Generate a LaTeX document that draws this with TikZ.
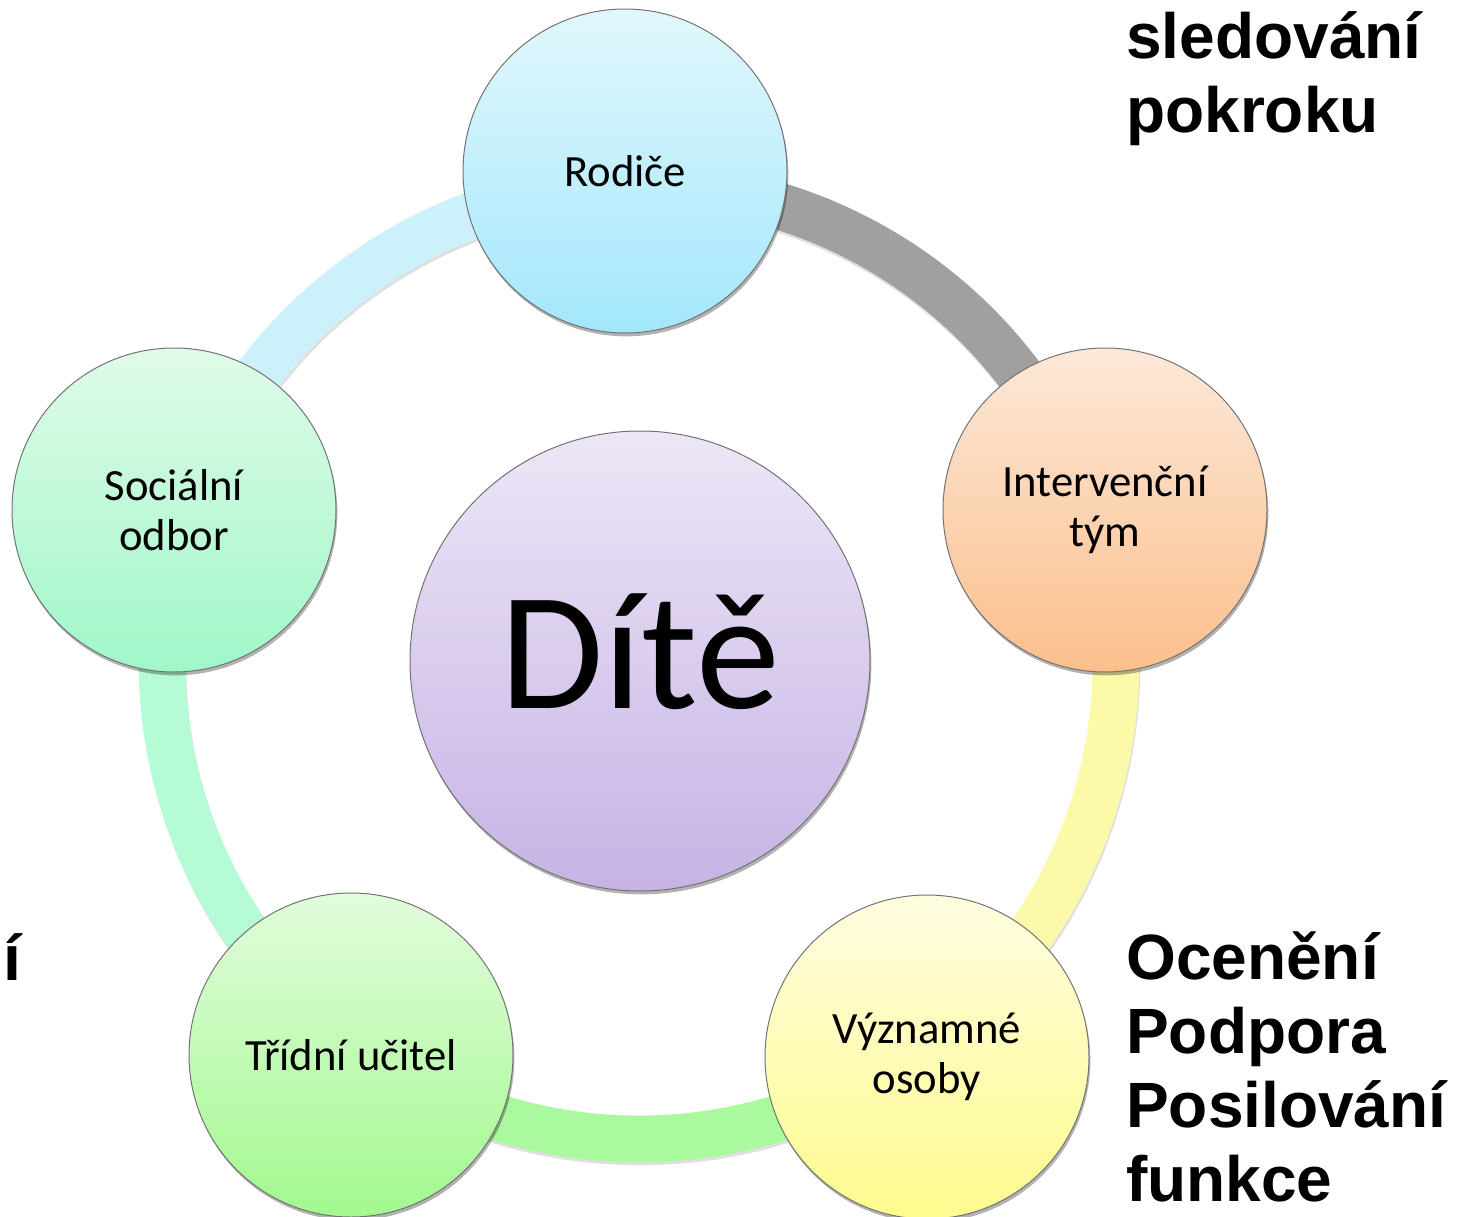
\documentclass[tikz,border=0pt]{standalone}
\usepackage{fontspec}
\setmainfont{Carlito}
\newfontfamily\sidefont{Liberation Sans}
\usetikzlibrary{shadows}

\definecolor{arcblue}{HTML}{CDF1FB}
\definecolor{arcgray}{HTML}{A0A0A0}
\definecolor{arcyellow}{HTML}{FCFAA8}
\definecolor{arcgreen}{HTML}{AAF99E}
\definecolor{arcmint}{HTML}{B4FBD6}

\tikzset{
  bubble/.style={circle, draw=black!55, line width=0.75pt, inner sep=0pt, minimum size=243pt, align=center,
    font=\fontsize{33.5}{37.5}\selectfont,
    drop shadow={shadow xshift=1pt, shadow yshift=-2.5pt, opacity=0.3, fill=black}},
  ringarc/.style={line width=35pt},
  arcshadow/.style={line width=35pt, draw=black, opacity=0.12},
  sidetext/.style={anchor=base west, inner sep=0pt, align=left, font=\sidefont\bfseries\fontsize{48}{55.5}\selectfont}
}

\begin{document}
\begin{tikzpicture}[x=0.75pt,y=0.75pt,yscale=-1,xscale=1]
        \useasboundingbox (0,0) rectangle (1457,1217);

        % Ring centre and the points where the ring meets each circle
        \coordinate (ring) at (639,662);
        \coordinate (aRod) at ([shift={(268.4:477)}]ring);
        \coordinate (aInt) at ([shift={(341.9:477)}]ring);
        \coordinate (aVyz) at ([shift={(53.9:477)}]ring);
        \coordinate (aTri) at ([shift={(126.2:477)}]ring);
        \coordinate (aSoc) at ([shift={(198.1:477)}]ring);

        %Shape: Arc shadows
        \draw [arcshadow] ([shift={(1,3)}]aSoc) arc[start angle=198.1, end angle=268.4, radius=477];
        \draw [arcshadow] ([shift={(1,3)}]aRod) arc[start angle=268.4, end angle=341.9, radius=477];
        \draw [arcshadow] ([shift={(1,3)}]aInt) arc[start angle=-18.1, end angle=53.9, radius=477];
        \draw [arcshadow] ([shift={(1,3)}]aVyz) arc[start angle=53.9, end angle=126.2, radius=477];
        \draw [arcshadow] ([shift={(1,3)}]aTri) arc[start angle=126.2, end angle=198.1, radius=477];

        %Shape: Arcs
        \draw [ringarc, draw=arcblue] (aSoc) arc[start angle=198.1, end angle=268.4, radius=477];
        \draw [ringarc, draw=arcgray] (aRod) arc[start angle=268.4, end angle=341.9, radius=477];
        \draw [ringarc, draw=arcyellow] (aInt) arc[start angle=-18.1, end angle=53.9, radius=477];
        \draw [ringarc, draw=arcgreen] (aVyz) arc[start angle=53.9, end angle=126.2, radius=477];
        \draw [ringarc, draw=arcmint] (aTri) arc[start angle=126.2, end angle=198.1, radius=477];

        %Shape: Circle
        \node [bubble, top color={rgb,255:red,226;green,247;blue,253}, bottom color={rgb,255:red,163;green,231;blue,251}] (rod) at (625,171) {Rodiče};
        %Shape: Circle
        \node [bubble, top color={rgb,255:red,253;green,232;blue,217}, bottom color={rgb,255:red,251;green,191;blue,140}] (int) at (1105,510) {Intervenční\\tým};
        %Shape: Circle
        \node [bubble, top color={rgb,255:red,255;green,253;blue,224}, bottom color={rgb,255:red,254;green,251;blue,142}] (vyz) at (927,1057) {Významné\\osoby};
        %Shape: Circle
        \node [bubble, top color={rgb,255:red,226;green,252;blue,220}, bottom color={rgb,255:red,162;green,249;blue,143}] (tri) at (351,1055) {Třídní učitel};
        %Shape: Circle
        \node [bubble, top color={rgb,255:red,224;green,251;blue,233}, bottom color={rgb,255:red,160;green,247;blue,200}] (soc) at (174,510) {Sociální\\odbor};

        %Shape: Circle
        \node [bubble, minimum size=345pt, text height=71pt, text depth=0pt, font=\fontsize{126}{126}\selectfont, top color={rgb,255:red,237;green,230;blue,246}, bottom color={rgb,255:red,198;green,179;blue,229}] (dite) at (640,661) {Dítě};

        % Text Node
        \node [sidetext] (sled) at (1126,132) {sledování\\pokroku};
        % Text Node
        \node [sidetext] (ocen) at (1126,1201) {Ocenění\\Podpora\\Posilování\\funkce};
        % Text Node
        \node [sidetext] (cut) at (3,980) {í};

\end{tikzpicture}
\end{document}
